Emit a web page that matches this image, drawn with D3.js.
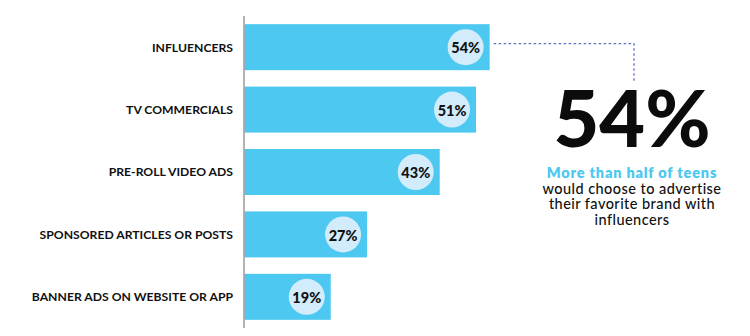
<!DOCTYPE html>
<html><head><meta charset="utf-8">
<script src="https://cdn.jsdelivr.net/npm/d3@7"></script>
<style>body{margin:0;background:#fff}svg{display:block}text{font-family:Lato,"Open Sans",sans-serif}</style>
</head><body>
<svg id="c" width="750" height="336"></svg>
<script>
const categories = ["INFLUENCERS","TV COMMERCIALS","PRE-ROLL VIDEO ADS","SPONSORED ARTICLES OR POSTS","BANNER ADS ON WEBSITE OR APP"];
const values = [54, 51, 43, 27, 19];
const calloutValue = "54%";
const calloutHighlight = ["More than half of teens"];
const calloutLines = ["would choose to advertise","their favorite brand with","influencers"];

const svg = d3.select("#c");
const x = d3.scaleLinear().domain([0,100]).range([244.5, 698.5]);
const y = d3.scaleBand().domain(categories).range([16,328]).paddingInner(0.263).paddingOuter(0.131);

// bars
svg.selectAll("rect.bar").data(values).join("rect").attr("class","bar")
  .attr("x", x(0)).attr("y",(d,i)=>y(categories[i]))
  .attr("width", d=>x(d)-x(0)).attr("height", y.bandwidth())
  .attr("fill","#4cc8f1");

// axis line
svg.append("line").attr("x1",244).attr("x2",244).attr("y1",16).attr("y2",328)
  .attr("stroke","#9a9a9a").attr("stroke-width",1.5);

// category labels
svg.selectAll("text.cat").data(categories).join("text").attr("class","cat")
  .attr("x",233).attr("y",d=>y(d)+y.bandwidth()/2).attr("dy","0.36em")
  .attr("text-anchor","end").attr("font-size",12.2).attr("font-weight",700).attr("fill","#111")
  .text(d=>d);

// value circles
svg.selectAll("circle.v").data(values).join("circle").attr("class","v")
  .attr("cx",d=>x(d)-24).attr("cy",(d,i)=>y(categories[i])+y.bandwidth()/2)
  .attr("r",18).attr("fill","#d2ecfb");
svg.selectAll("text.v").data(values).join("text").attr("class","v")
  .attr("x",d=>x(d)-24).attr("y",(d,i)=>y(categories[i])+y.bandwidth()/2+1).attr("dy","0.36em")
  .attr("text-anchor","middle").attr("font-size",14.5).attr("font-weight",900).attr("fill","#111")
  .text(d=>d+"%");

// dotted connector
const cy0 = y(categories[0])+y.bandwidth()/2 - 3.5;
svg.append("path").attr("d",`M${x(values[0])+4},${cy0}H634V81`)
  .attr("fill","none").attr("stroke","#5f70c4").attr("stroke-width",1.3).attr("stroke-dasharray","2.5,2.5");

// callout
svg.append("text").attr("x",632).attr("y",147).attr("text-anchor","middle")
  .attr("font-size",79).attr("font-weight",900).attr("fill","#0c0c0c").text(calloutValue);
svg.append("text").attr("x",632).attr("y",177.5).attr("text-anchor","middle")
  .attr("font-family","'Open Sans',sans-serif").attr("letter-spacing",0.8)
  .attr("font-size",14.5).attr("font-weight",800).attr("fill","#4cc8f1").text(calloutHighlight[0]);
svg.selectAll("text.cl").data(calloutLines).join("text").attr("class","cl")
  .attr("x",632).attr("y",(d,i)=>193.5+i*15.8).attr("text-anchor","middle")
  .attr("font-family","'Open Sans',sans-serif").attr("letter-spacing",0.45)
  .attr("font-size",14.5).attr("font-weight",500).attr("fill","#111").text(d=>d);
</script>
</body></html>
